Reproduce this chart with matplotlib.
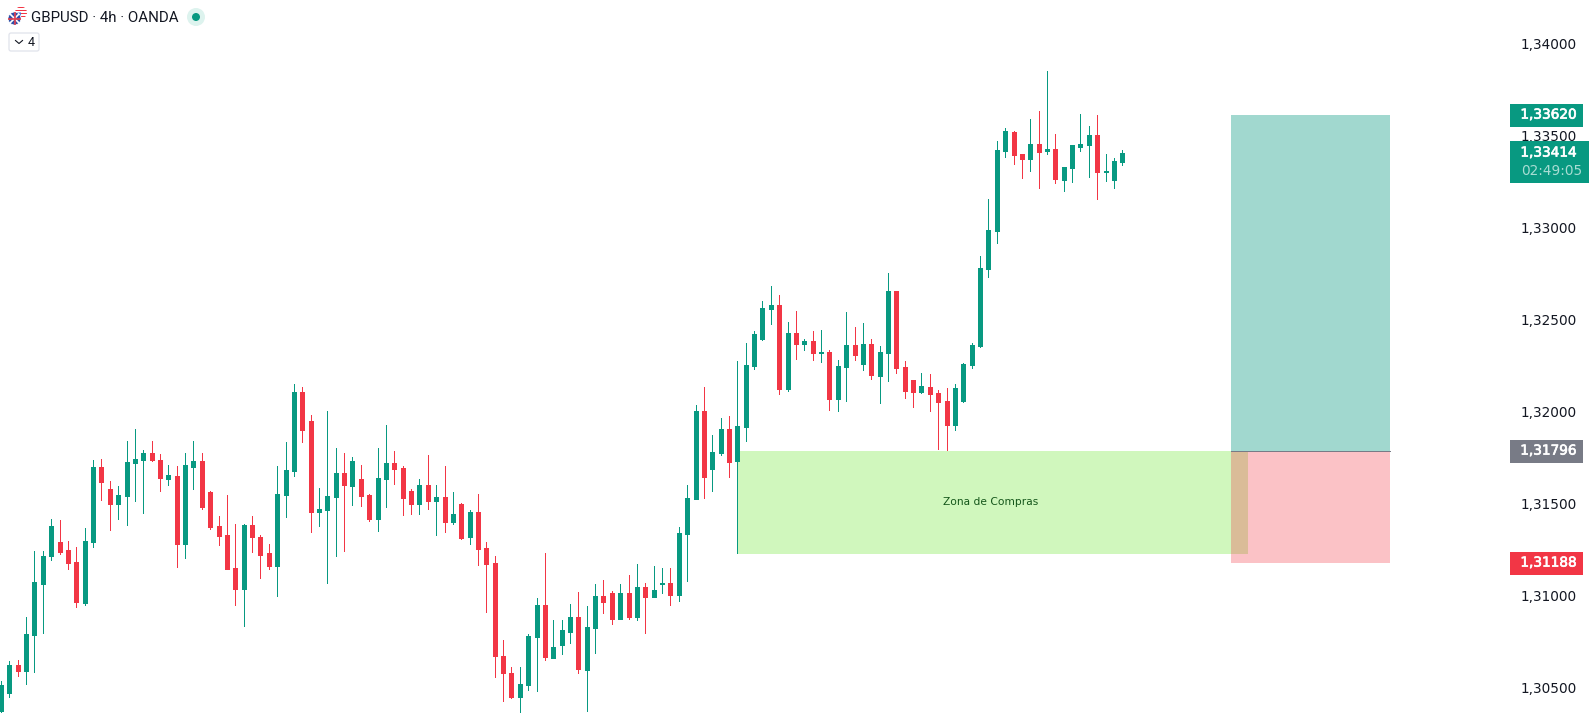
import numpy as np
import matplotlib
matplotlib.use("Agg")
import matplotlib.pyplot as plt
import matplotlib.patheffects as pe
from matplotlib.patches import Rectangle, Circle, FancyBboxPatch, Wedge

# GBPUSD 4h candles, prices in 1e-5 units
opens = np.array([
    130387, 130484, 130636, 130604, 130799, 131076, 131228, 131304, 131261, 131195,
    130973, 131304, 131711, 131592, 131510, 131554, 131733, 131749, 131787, 131749,
    131646, 131662, 131293, 131711, 131744, 131575, 131391, 131342, 131163, 131049,
    131396, 131331, 131244, 131174, 131559, 131689, 132118, 131961, 131467, 131478,
    131548, 131679, 131608, 131646, 131559, 131429, 131646, 131733, 131706, 131581,
    131510, 131613, 131527, 131548, 131413, 131510, 131331, 131467, 131271, 131190,
    130685, 130593, 130463, 130528, 130788, 130962, 130674, 130745, 130815, 130897,
    130609, 130837, 131011, 131027, 130886, 131027, 130897, 131060, 131005, 131078,
    131081, 131016, 131347, 131537, 132015, 131700, 131787, 131917, 131744, 131928,
    132259, 132406, 132569, 132590, 132134, 132438, 132379, 132395, 132332, 132335,
    132080, 132254, 132373, 132270, 132379, 132205, 132330, 132666, 132254, 132183,
    132118, 132145, 132113, 132069, 131939, 132069, 132265, 132367, 132785, 132992,
    133426, 133529, 133410, 133383, 133464, 133426, 133437, 133269, 133334, 133448,
    133459, 133513, 133314, 133269, 133366]) / 1e5
closes = np.array([
    130528, 130636, 130604, 130805, 131087, 131228, 131391, 131250, 131190, 130978,
    131309, 131711, 131630, 131510, 131559, 131738, 131755, 131787, 131749, 131651,
    131668, 131293, 131722, 131744, 131494, 131385, 131337, 131157, 131049, 131396,
    131331, 131233, 131174, 131565, 131695, 132118, 131912, 131467, 131483, 131554,
    131679, 131613, 131744, 131554, 131429, 131651, 131733, 131700, 131543, 131510,
    131613, 131527, 131548, 131413, 131456, 131326, 131467, 131266, 131185, 130685,
    130593, 130463, 130533, 130794, 130962, 130680, 130734, 130826, 130897, 130615,
    130843, 131011, 130978, 130886, 131027, 130897, 131060, 131005, 131043, 131081,
    131016, 131353, 131543, 132015, 131657, 131793, 131917, 131738, 131934, 132265,
    132433, 132574, 132590, 132134, 132438, 132379, 132395, 132330, 132335, 132080,
    132259, 132373, 132319, 132379, 132210, 132335, 132666, 132248, 132123, 132118,
    132151, 132107, 132064, 131939, 132140, 132270, 132373, 132791, 132997, 133431,
    133535, 133404, 133383, 133464, 133421, 133437, 133274, 133339, 133459, 133464,
    133513, 133312, 133317, 133372, 133414]) / 1e5
highs = np.array([
    130549, 130658, 130663, 130897, 131255, 131255, 131429, 131423, 131309, 131277,
    131380, 131749, 131755, 131635, 131608, 131852, 131917, 131803, 131852, 131782,
    131722, 131717, 131787, 131852, 131787, 131581, 131445, 131559, 131402, 131402,
    131445, 131342, 131293, 131717, 131847, 132162, 132145, 131993, 131597, 132015,
    131814, 131787, 131765, 131722, 131565, 131814, 131939, 131798, 131717, 131592,
    131646, 131776, 131613, 131717, 131575, 131516, 131478, 131565, 131304, 131228,
    130772, 130625, 130625, 130805, 131000, 131244, 130881, 130881, 130967, 131033,
    130957, 131076, 131098, 131038, 131076, 131125, 131185, 131081, 131174, 131163,
    131163, 131385, 131613, 132048, 132145, 131885, 131977, 131988, 132286, 132384,
    132449, 132612, 132693, 132645, 132498, 132558, 132406, 132449, 132455, 132346,
    132292, 132552, 132471, 132493, 132406, 132368, 132764, 132666, 132286, 132183,
    132221, 132216, 132129, 132140, 132161, 132275, 132384, 132856, 133165, 133480,
    133551, 133535, 133410, 133600, 133643, 133860, 133518, 133339, 133459, 133627,
    133562, 133621, 133410, 133388, 133431]) / 1e5
lows = np.array([
    130381, 130463, 130577, 130533, 130598, 130810, 131206, 131239, 131157, 130951,
    130962, 131277, 131532, 131369, 131429, 131396, 131527, 131461, 131744, 131581,
    131613, 131168, 131217, 131592, 131483, 131375, 131288, 131157, 130962, 130848,
    131250, 131109, 131157, 131011, 131440, 131662, 131847, 131358, 131391, 131081,
    131228, 131255, 131505, 131499, 131418, 131364, 131494, 131619, 131451, 131456,
    131456, 131483, 131342, 131358, 131402, 131320, 131293, 131179, 130924, 130571,
    130441, 130457, 130381, 130501, 130495, 130663, 130674, 130696, 130756, 130593,
    130387, 130701, 130919, 130859, 130886, 130886, 130881, 130810, 131005, 131027,
    130962, 130984, 131092, 131537, 131543, 131581, 131776, 131657, 131244, 131852,
    132243, 132400, 132487, 132107, 132123, 132297, 132346, 132292, 132281, 132020,
    132015, 132069, 132292, 132237, 132189, 132058, 132178, 132221, 132085, 132037,
    132113, 132015, 131809, 131803, 131912, 132064, 132248, 132362, 132742, 132927,
    133393, 133355, 133279, 133317, 133225, 133410, 133252, 133209, 133258, 133426,
    133285, 133165, 133263, 133225, 133350]) / 1e5

price_ticks = [1.305, 1.31, 1.315, 1.32, 1.325, 1.33, 1.335, 1.34]
entry = 1.31796
target = 1.33620
stop = 1.31188
last_price = 1.33414
zone_bottom = 1.31240
zone_start, zone_end = 88, 149
pos_start, pos_end = 147, 166

GREEN = "#089981"
RED = "#F23645"
GRAY = "#787B86"
INK = "#131722"
FONT = "DejaVu Sans"


def fmt(p):
    return f"{p:.5f}".replace(".", ",")


fig = plt.figure(figsize=(15.93, 7.18), dpi=100, facecolor="white")
ax = fig.add_axes([0, 0, 1, 1])
ax.set_xlim(-0.12, 190.25)
ax.set_ylim(1.30348, 1.34246)
ax.axis("off")
px = (1.34246 - 1.30348) / 718

# zones
ax.add_patch(Rectangle((zone_start, zone_bottom), zone_end - zone_start, entry - zone_bottom,
                       fc="#D0F7BD", ec="none", zorder=1))
ax.add_patch(Rectangle((pos_start, entry), pos_end - pos_start, target - entry,
                       fc=GREEN, alpha=0.38, ec="none", zorder=2))
ax.add_patch(Rectangle((pos_start, stop), pos_end - pos_start, entry - stop,
                       fc=RED, alpha=0.3, ec="none", zorder=2))
ax.plot([pos_start, pos_end], [entry, entry], color=GRAY, lw=0.72, zorder=3)
ax.text(118.3, 1.31520, "Zona de Compras", color="#14561A", fontsize=7.7, family="DejaVu Sans",
        ha="center", va="center", zorder=4)

# candles, wick and body both snapped to the same pixel column
idx = np.arange(len(opens))
colors = [GREEN if c >= o else RED for o, c in zip(opens, closes)]
body_low = np.minimum(opens, closes)
body_high = np.maximum(np.maximum(opens, closes), body_low + px)
wicks = ax.vlines(idx, lows, highs, colors=colors, lw=0.71, antialiased=False, zorder=5)
bodies = ax.vlines(idx, body_low, body_high, colors=colors, lw=3.59, antialiased=False, zorder=6)
for coll in (wicks, bodies):
    coll.set_capstyle("butt")
    coll.set_snap(True)

# price scale
trans = ax.get_yaxis_transform()
for p in price_ticks:
    ax.text(1576.5 / 1593, p + 0.7 * px, fmt(p), transform=trans, ha="right", va="center",
            fontsize=9.8, color=INK, family=FONT, zorder=7)

stroke = [pe.withStroke(linewidth=0.5, foreground="white")]


def tag(price, color, right=1582.7):
    ax.add_patch(Rectangle((1510 / 1593, price - 11.5 * px), (right - 1510) / 1593, 23 * px,
                           transform=trans, fc=color, ec="none", zorder=8))
    ax.text(1576.5 / 1593, price + 0.7 * px, fmt(price), transform=trans, ha="right", va="center",
            fontsize=9.8, color="white", family=FONT, zorder=9, path_effects=stroke)


tag(target, GREEN)
tag(entry, GRAY)
tag(stop, RED)

# last price tag with countdown
ax.add_patch(Rectangle((1510 / 1593, last_price - 29.5 * px), 79 / 1593, 42 * px,
                       transform=trans, fc=GREEN, ec="none", zorder=8))
ax.text(1576.5 / 1593, last_price + 0.7 * px, fmt(last_price), transform=trans, ha="right", va="center",
        fontsize=9.8, color="white", family=FONT, zorder=9, path_effects=stroke)
ax.text(1582 / 1593, last_price - 18 * px, "02:49:05", transform=trans, ha="right", va="center",
        fontsize=9.8, color="#A8DDD3", family=FONT, zorder=9)

# header, drawn in pixel coordinates
ui = fig.add_axes([0, 0, 1, 1], facecolor="none")
ui.set_xlim(0, 1593)
ui.set_ylim(718, 0)
ui.axis("off")
us = Circle((21, 12.5), 6, fc="white", ec="none", zorder=2)
ui.add_patch(us)
for y in (6.5, 9.5, 12.5, 15.5):
    ui.add_patch(Rectangle((15, y), 12, 1.5, fc=RED, ec="none", zorder=3)).set_clip_path(us)
ui.add_patch(Wedge((21, 12.5), 6, 90, 180, fc="#3F6FD8", ec="none", zorder=3))
uk = Circle((14.5, 18.5), 6.5, fc="#2F4FA8", ec="white", lw=0.6, zorder=4)
ui.add_patch(uk)
for xs, ys, col, z in (([9.5, 19.5], [13.5, 23.5], "white", 5),
                       ([9.5, 19.5], [23.5, 13.5], "white", 5),
                       ([8, 21], [18.5, 18.5], "#E04050", 6),
                       ([14.5, 14.5], [12, 25], "#E04050", 6)):
    ui.plot(xs, ys, color=col, lw=1.2, zorder=z)[0].set_clip_path(uk)

ui.text(31, 17.5, "GBPUSD · 4h · OANDA", fontsize=10.85, color=INK, family="Roboto",
        ha="left", va="center")
ui.add_patch(Circle((196, 17), 9, fc="#DDF3EE", ec="none"))
ui.add_patch(Circle((196, 17), 4, fc=GREEN, ec="none"))

ui.add_patch(FancyBboxPatch((9, 33), 30, 18, boxstyle="round,pad=0,rounding_size=2",
                            fc="white", ec="#E0E3EB", lw=0.9))
ui.plot([15.5, 19, 22.5], [40.5, 43.5, 40.5], color=INK, lw=0.8)
ui.text(31, 42, "4", fontsize=9, color=INK, family="Roboto", ha="center", va="center")

fig.savefig("out.png", dpi=100)
